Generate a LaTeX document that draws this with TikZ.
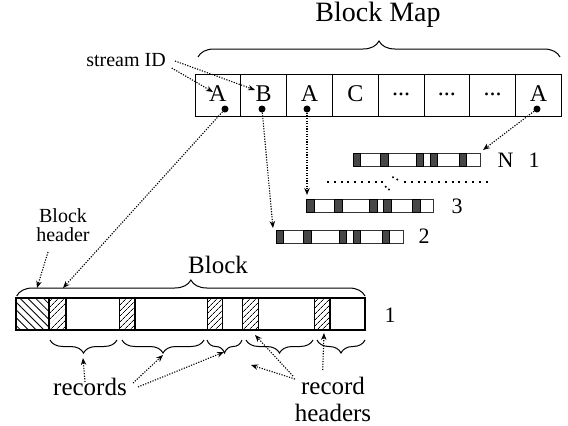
\documentclass[tikz,border=0pt]{standalone}
\usepackage{fontspec}
\setmainfont{Liberation Serif}
\usetikzlibrary{arrows.meta,decorations.pathreplacing,patterns.meta,calc}

\newcommand\cdts{...}

\begin{document}
\begin{tikzpicture}[x=1pt,y=-1pt,
  cell/.style={draw, line width=1pt, minimum width=45.8pt, minimum height=42.4pt,
    inner sep=0pt, outer sep=0pt, anchor=north west,
    font=\fontsize{24}{24}\selectfont},
  pdot/.style={circle, fill=black, inner sep=0pt, minimum size=7pt},
  ptr/.style={line width=1.1pt, dash pattern=on 1.2pt off 1.4pt,
    -{Stealth[length=7pt,width=5.5pt]}},
  dotline/.style={line width=2pt, dash pattern=on 2pt off 4.8pt},
  brc/.style={decorate, decoration={brace, amplitude=#1}, line width=1pt},
  mbrc/.style={decorate, decoration={brace, mirror, amplitude=#1}, line width=1pt},
  lbl/.style={inner sep=0pt, font=\fontsize{#1}{#1}\selectfont},
  seg/.style={fill=black!72, draw=black, line width=0.6pt},
  hdr/.style={draw, line width=1.1pt,
    pattern={Lines[angle=45,distance=4pt,line width=0.8pt]}},
]
\useasboundingbox (0,0) rectangle (568,426);

% ---- block map ----
\foreach \c [count=\i from 0] in {A,B,A,C,\cdts,\cdts,\cdts,A}
  \node[cell] (m\i) at ({195+\i*45.8},74.3) {\raisebox{3pt}{\c}};
\draw[brc=16] (198,57) -- (560,57);
\node[lbl=28] (bm) at (378,15) {Block Map};

\node[pdot] (d1) at (225,109) {};
\node[pdot] (d2) at (262,109) {};
\node[pdot] (d3) at (307,109) {};
\node[pdot] (d8) at (537,109) {};

% ---- stream ID ----
\node[lbl=20] (sid) at (126,60) {stream ID};
\coordinate (s1) at (171.7,68);
\coordinate (s2) at (175,61);
\coordinate (tA) at (213,92);
\coordinate (tB) at (255,90);
\draw[ptr] (s1) -- (tA);
\draw[ptr] (s2) -- (tB);

% ---- per-stream record lists ----
\newcommand\rlist[3]{%
  \draw[line width=0.8pt, draw=black!80] (#1,#2) rectangle ++(127,13.3);
  \foreach \a/\b in {0/7.7,27.7/35.3,63/70.7,77/84.7,106/113.7}
    \draw[seg] ({#1+\a},#2) rectangle ({#1+\b},{#2+13.3});
  \coordinate (#3) at (#1,#2);}
\rlist{353}{153}{rN}
\rlist{306.7}{199.3}{r3}
\rlist{276}{230}{r2}

\node[lbl=22] (lN) at (505.5,160) {N};
\node[lbl=22] (lN1) at (534,160) {1};
\node[lbl=22] (l3) at (457,206) {3};
\node[lbl=22] (l2) at (424,236) {2};

% broken dotted separator
\draw[dotline] (327,182) -- (384,182);
\draw[dotline] (404,182) -- (492,182);
\foreach \p in {(385.7,186.7),(389,189.5),(393,177.3),(397.3,179.5)}
  \fill \p circle (1.1pt);

% map entries pointing to their lists / block
\coordinate (tN) at (483,150);
\coordinate (t3) at (307,195);
\coordinate (t2) at (273,228);
\coordinate (tBlk) at (63,288);
\draw[ptr] (d8) -- (tN);
\draw[ptr] (d3) -- (t3);
\draw[ptr] (d2) -- (t2);
\draw[ptr] (d1) -- (tBlk);

% ---- block ----
\draw[line width=1.2pt] (16,298) rectangle (365,330);
\draw[draw, line width=1.1pt,
  pattern={Lines[angle=-45,distance=5.5pt,line width=0.8pt]}] (16,298) rectangle (49.3,330);
\foreach \a/\b in {49.3/66,119.3/135,207.3/222.7,242.3/258.3,314.3/330}
  \draw[hdr] (\a,298) rectangle (\b,330);
\draw[line width=2.2pt] (49.3,298) -- (49.3,330);
\node[lbl=22] (l1) at (390,315) {1};

\draw[brc=16] (16.7,296) -- (365,296);
\node[lbl=25] (blk) at (218,265) {Block};

\node[lbl=20, align=center] (bh) at (63,225) {Block\\[-1pt]header};
\coordinate (bhs) at (48,252);
\coordinate (bht) at (37,288);
\draw[ptr] (bhs) -- (bht);

% record braces below the block
\foreach \a/\b in {50/117,122/204,207/242,246/313,317/365}
  \draw[mbrc=13] (\a,340) -- (\b,340);

\node[lbl=25] (rec) at (90,387) {records};
\node[lbl=25, align=center] (rh) at (333,399) {record\\[2pt]headers};

\coordinate (ra) at (85,382);   \coordinate (rat) at (83,358);
\coordinate (rb) at (133,383);  \coordinate (rbt) at (163,355);
\coordinate (rc) at (138,387);  \coordinate (rct) at (224,352);
\draw[ptr] (ra) -- (rat);
\draw[ptr] (rb) -- (rbt);
\draw[ptr] (rc) -- (rct);

\coordinate (ha) at (295,379);   \coordinate (hat) at (251,365);
\coordinate (hb) at (293,376);   \coordinate (hbt) at (255,335);
\coordinate (hc) at (322.7,370); \coordinate (hct) at (324,333);
\draw[ptr] (ha) -- (hat);
\draw[ptr] (hb) -- (hbt);
\draw[ptr] (hc) -- (hct);
\end{tikzpicture}
\end{document}
